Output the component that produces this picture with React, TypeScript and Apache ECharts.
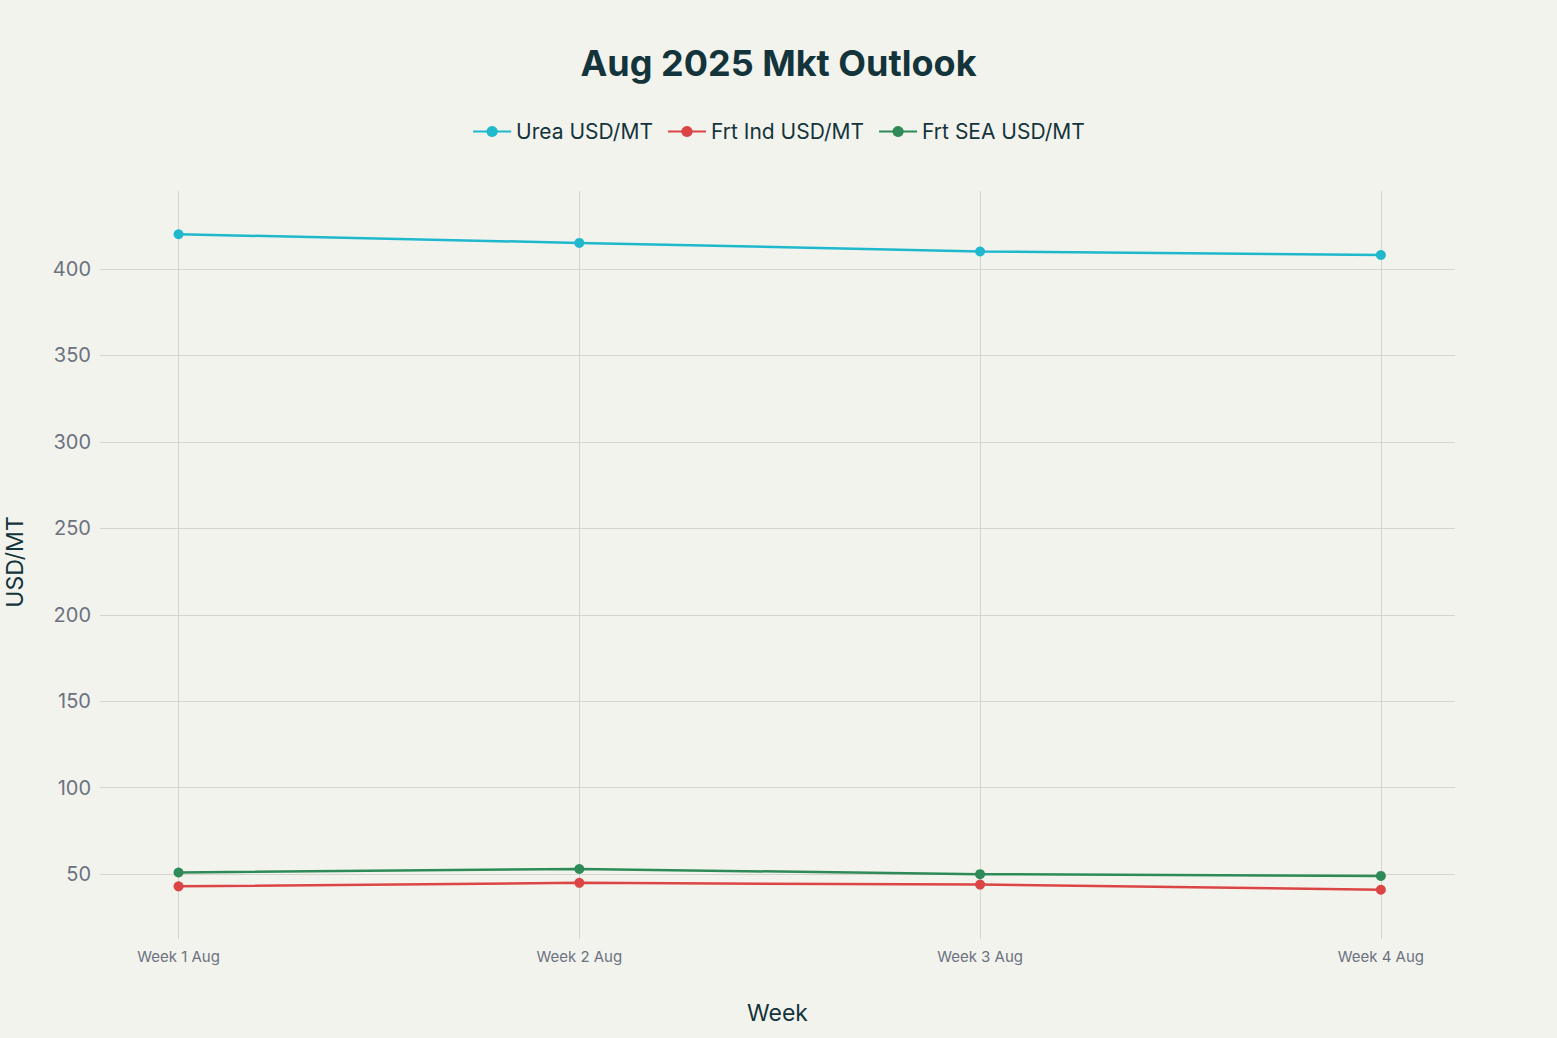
import React, { useEffect, useRef } from 'react';
import * as echarts from 'echarts';

// values
const weeks = ['Week 1 Aug', 'Week 2 Aug', 'Week 3 Aug', 'Week 4 Aug'];
const ureaUsd = [420, 415, 410, 408];
const frtIndUsd = [43, 45, 44, 41];
const frtSeaUsd = [51, 53, 50, 49];
const yTicks = [50, 100, 150, 200, 250, 300, 350, 400];

const seriesNames = ['Urea USD/MT', 'Frt Ind USD/MT', 'Frt SEA USD/MT'];
const seriesColors = ['#1FB8CD', '#DB4545', '#2E8B57'];

const FONT = 'Inter, "Liberation Sans", sans-serif';

const App: React.FC = () => {
  const chartRef = useRef<HTMLDivElement>(null);

  useEffect(() => {
    document.body.style.margin = '0';
    if (!chartRef.current) return;
    const chart = echarts.init(chartRef.current, null, { renderer: 'svg' });

    const values = [ureaUsd, frtIndUsd, frtSeaUsd];
    const series = values.map((vals, i) => ({
      name: seriesNames[i],
      type: 'line',
      data: vals.map((v, idx) => [idx, v]),
      symbol: 'circle',
      symbolSize: 10,
      lineStyle: { width: 2.5, color: seriesColors[i] },
      itemStyle: { color: seriesColors[i] },
    }));

    chart.setOption({
      animation: false,
      backgroundColor: '#F3F3EE',
      textStyle: { fontFamily: FONT },
      title: {
        text: 'Aug 2025 Mkt Outlook',
        left: 'center',
        top: 40,
        textStyle: { fontSize: 36, fontWeight: 'bold', color: '#13343B', fontFamily: FONT },
      },
      legend: {
        top: 116,
        left: 'center',
        itemWidth: 38,
        itemHeight: 14,
        itemGap: 14,
        textStyle: { fontSize: 21, color: '#13343B', fontFamily: FONT },
        data: seriesNames,
      },
      grid: {
        left: 100,
        right: 102,
        top: 191,
        bottom: 105,
        containLabel: false,
        outerBoundsMode: 'none',
      },
      xAxis: {
        type: 'value',
        min: -0.196,
        max: 3.185,
        name: 'Week',
        nameLocation: 'middle',
        nameGap: 68,
        nameTextStyle: { fontSize: 23, color: '#13343B', fontFamily: FONT },
        axisLine: { show: false },
        axisTick: {
          show: true,
          length: 6,
          lineStyle: { color: '#D5D5D0' },
          customValues: [0, 1, 2, 3],
        },
        axisLabel: {
          customValues: [0, 1, 2, 3],
          formatter: (v: number) => weeks[Math.round(v)] ?? '',
          fontSize: 15,
          color: '#6B7280',
          margin: 16,
          fontFamily: FONT,
        },
        splitLine: { show: true, lineStyle: { color: '#D5D5D0', width: 1 } },
      },
      yAxis: {
        type: 'value',
        min: 16,
        max: 445,
        name: 'USD/MT',
        nameLocation: 'middle',
        nameGap: 74,
        nameTextStyle: { fontSize: 23, color: '#13343B', fontFamily: FONT },
        axisLine: { show: false },
        axisTick: {
          show: true,
          length: 5,
          lineStyle: { color: '#D5D5D0' },
          customValues: yTicks,
        },
        axisLabel: {
          customValues: yTicks,
          fontSize: 20,
          color: '#6B7280',
          margin: 9,
          fontFamily: FONT,
        },
        splitLine: { show: true, lineStyle: { color: '#D5D5D0', width: 1 } },
      },
      series,
    });

    return () => {
      chart.dispose();
    };
  }, []);

  return <div ref={chartRef} style={{ width: '1557px', height: '1038px' }}></div>;
};

export default App;
